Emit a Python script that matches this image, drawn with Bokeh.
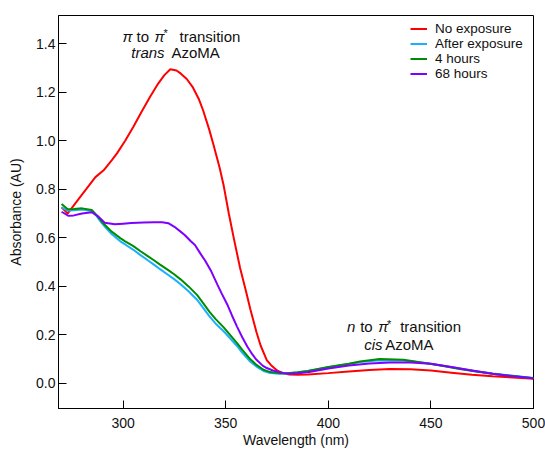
from bokeh.plotting import figure
from bokeh.models import FixedTicker, Label, Legend, LegendItem, NumeralTickFormatter, Range1d
from bokeh.embed import file_html
from bokeh.resources import INLINE

FONT = "Liberation Sans"

# ---------------- data ----------------
red_wl = [270, 273, 278, 282, 286.5, 290.5, 294.5, 297, 301, 305, 309, 313, 317, 320, 323,
          326, 328, 331, 334, 337, 339, 342, 344, 347, 349, 351.5, 354, 357, 360, 362, 365,
          367, 370, 372, 375, 378, 381, 385, 390, 400, 410, 420, 430, 440, 450, 460, 470,
          480, 490, 500]
red_abs = [0.725, 0.70, 0.756, 0.80, 0.85, 0.878, 0.92, 0.948, 1.00, 1.058, 1.12, 1.18, 1.235,
           1.27, 1.295, 1.29, 1.278, 1.255, 1.22, 1.17, 1.125, 1.045, 0.985, 0.89, 0.815, 0.70,
           0.595, 0.475, 0.375, 0.305, 0.21, 0.155, 0.095, 0.075, 0.052, 0.04, 0.035, 0.034,
           0.035, 0.041, 0.048, 0.054, 0.058, 0.057, 0.052, 0.043, 0.034, 0.028, 0.023, 0.018]

purple_wl = [270, 273.4, 276, 280, 284.7, 288, 291, 296, 300, 304, 310, 315, 319, 322, 325,
             328, 330, 333, 335, 338, 340, 343, 346, 348, 351, 353, 355.5, 358, 360.5, 363,
             365, 368, 370, 373, 375, 378, 381, 385, 390, 400, 410, 420, 430, 440, 450, 460,
             470, 480, 490, 500]
purple_abs = [0.707, 0.69, 0.692, 0.70, 0.705, 0.687, 0.662, 0.655, 0.658, 0.661, 0.663, 0.664,
              0.664, 0.66, 0.645, 0.625, 0.611, 0.585, 0.57, 0.53, 0.505, 0.46, 0.405, 0.37,
              0.32, 0.28, 0.233, 0.19, 0.151, 0.118, 0.096, 0.072, 0.062, 0.052, 0.048, 0.042,
              0.038, 0.04, 0.045, 0.06, 0.072, 0.081, 0.085, 0.085, 0.08, 0.066, 0.052, 0.038,
              0.028, 0.02]

green_wl = [270, 273, 276, 280, 284.7, 287, 289.6, 292, 294.4, 298.6, 301, 305, 308.3, 312, 315,
            318, 322, 325, 328, 332, 336, 339, 342, 345, 349, 352, 355.5, 358, 362, 365, 368.4,
            371, 373.3, 376, 380, 385, 390, 400, 410, 415.5, 425, 436.6, 448, 456, 464, 472,
            480, 490, 500]
green_abs = [0.739, 0.717, 0.718, 0.721, 0.714, 0.694, 0.666, 0.645, 0.625, 0.598, 0.585, 0.565,
             0.545, 0.524, 0.507, 0.489, 0.466, 0.448, 0.428, 0.398, 0.364, 0.33, 0.295, 0.265,
             0.23, 0.2, 0.165, 0.138, 0.098, 0.075, 0.055, 0.047, 0.044, 0.041, 0.041, 0.045,
             0.05, 0.066, 0.08, 0.089, 0.099, 0.096, 0.082, 0.07, 0.058, 0.048, 0.038, 0.029,
             0.02]

blue_wl = green_wl
blue_abs = [0.725, 0.712, 0.713, 0.716, 0.71, 0.69, 0.66, 0.637, 0.615, 0.585, 0.572, 0.55,
            0.529, 0.507, 0.489, 0.47, 0.446, 0.428, 0.408, 0.378, 0.344, 0.31, 0.276, 0.246,
            0.214, 0.186, 0.153, 0.126, 0.088, 0.068, 0.05, 0.043, 0.04, 0.038, 0.039, 0.044,
            0.05, 0.065, 0.079, 0.087, 0.094, 0.093, 0.082, 0.071, 0.06, 0.049, 0.039, 0.03,
            0.021]

series_names = ["No exposure", "After exposure", "4 hours", "68 hours"]
series_colors = ["#ff0000", "#1ab0ff", "#008c00", "#7f00ff"]

x_ticks = [300, 350, 400, 450, 500]
y_ticks = [0.0, 0.2, 0.4, 0.6, 0.8, 1.0, 1.2, 1.4]

# ---------------- figure ----------------
p = figure(width=545, height=450, output_backend="svg", toolbar_location=None,
           x_range=Range1d(268.5, 500), y_range=Range1d(-0.105, 1.517),
           min_border_left=58, min_border_right=12, min_border_top=15, min_border_bottom=41)
p.xgrid.visible = False
p.ygrid.visible = False
p.outline_line_color = "black"
p.outline_line_width = 1
p.background_fill_color = "white"
p.border_fill_color = "white"

for ax in (p.xaxis[0], p.yaxis[0]):
    ax.axis_line_color = "black"
    ax.axis_line_width = 1
    ax.major_tick_in = 8
    ax.major_tick_out = 0
    ax.major_tick_line_color = "black"
    ax.minor_tick_line_color = None
    ax.major_label_text_font = FONT
    ax.major_label_text_font_size = "14px"
    ax.major_label_text_color = "#111111"
    ax.axis_label_text_font = FONT
    ax.axis_label_text_font_size = "14px"
    ax.axis_label_text_font_style = "normal"
    ax.axis_label_text_color = "#111111"

p.xaxis.ticker = FixedTicker(ticks=x_ticks)
p.yaxis.ticker = FixedTicker(ticks=y_ticks)
p.yaxis.formatter = NumeralTickFormatter(format="0.0")
p.xaxis.axis_label = "Wavelength (nm)"
p.yaxis.axis_label = "Absorbance (AU)"
p.xaxis.major_label_standoff = 9
p.xaxis.axis_label_standoff = 1
p.yaxis.major_label_standoff = 3
p.yaxis.axis_label_standoff = 9

r_red = p.line(red_wl, red_abs, line_color=series_colors[0], line_width=2)
r_blue = p.line(blue_wl, blue_abs, line_color=series_colors[1], line_width=2)
r_green = p.line(green_wl, green_abs, line_color=series_colors[2], line_width=2)
r_purple = p.line(purple_wl, purple_abs, line_color=series_colors[3], line_width=2)

legend = Legend(items=[LegendItem(label=series_names[0], renderers=[r_red]),
                       LegendItem(label=series_names[1], renderers=[r_blue]),
                       LegendItem(label=series_names[2], renderers=[r_green]),
                       LegendItem(label=series_names[3], renderers=[r_purple])],
                location=(349, 324), glyph_width=17, glyph_height=13, label_height=13,
                label_standoff=8, spacing=0, padding=3, margin=0,
                border_line_alpha=0, background_fill_alpha=0,
                label_text_font=FONT, label_text_font_size="13.5px",
                label_text_color="#111111")
p.add_layout(legend)

# ---------------- annotations ----------------
def piece(x, y, text, dx, style="normal", size="15px", dy=0):
    p.add_layout(Label(x=x, y=y, text=text, x_offset=dx, y_offset=dy,
                       text_font=FONT, text_font_size=size, text_font_style=style,
                       text_color="#111111", text_baseline="alphabetic", text_align="left"))

ux, uy1, uy2 = 299.7, 1.432, 1.366
piece(ux, uy1, "π", 0, "italic")
piece(ux, uy1, "to", 14)
piece(ux, uy1, "π", 32, "italic")
piece(ux, uy1, "*", 41, size="11px", dy=3)
piece(ux, uy1, "transition", 57)
piece(ux, uy2, "trans", 8.7, "italic")
piece(ux, uy2, "AzoMA", 49)

lx, ly1, ly2 = 409.05, 0.232, 0.158
piece(lx, ly1, "n", 0, "italic")
piece(lx, ly1, "to", 13.3)
piece(lx, ly1, "π", 31.3, "italic")
piece(lx, ly1, "*", 40, size="11px", dy=3)
piece(lx, ly1, "transition", 53.3)
piece(lx, ly2, "cis", 17.3, "italic")
piece(lx, ly2, "AzoMA", 38.3)

open("out.html", "w").write(file_html(p, INLINE))
